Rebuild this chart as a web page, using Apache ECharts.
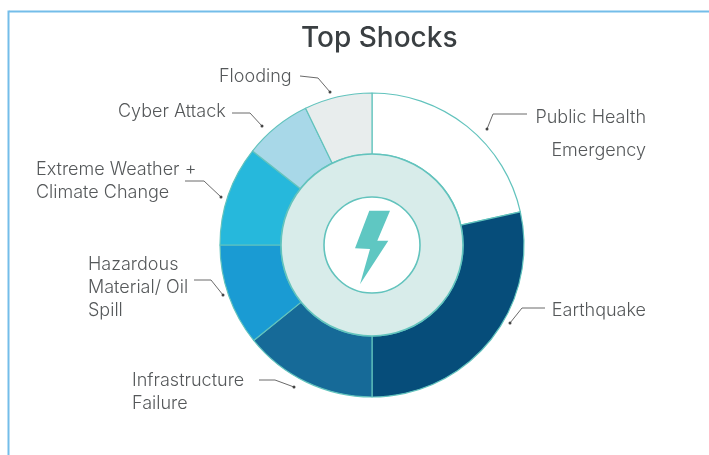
<!DOCTYPE html>
<html>
<head>
<meta charset="utf-8">
<style>html,body{margin:0;padding:0;background:#fff}#c{width:709px;height:455px}</style>
<script src="https://cdn.jsdelivr.net/npm/echarts@6/dist/echarts.min.js"></script>
</head>
<body>
<div id="c"></div>
<script>
const categories = ['Public Health\nEmergency','Earthquake','Infrastructure\nFailure','Hazardous\nMaterial/ Oil\nSpill','Extreme Weather +\nClimate Change','Cyber Attack','Flooding'];
const shares = [21.5, 28.5, 14.2, 10.8, 10.6, 7.2, 7.2];
const colors = ['#ffffff','#064d7a','#166a98','#1a9bd3','#26b8dc','#a8d8e8','#e8eded'];
const title = 'Top Shocks';
const labelAnchors = [[646,134,'right',33],[646,310.5,'right',23],[132,392,'left',23],[88,287.5,'left',23],[36,181,'left',23],[118,111.5,'left',23],[219,76.5,'left',23]];
const leaders = [
  [[527,114],[493,114],[487,129]],
  [[545,308],[522,308],[510,323]],
  [[259,380],[275,380],[294,387]],
  [[194,280],[211,280],[223,295]],
  [[185,181],[204,181],[221,197]],
  [[232,113],[250,113],[262,126]],
  [[300,76],[318,78],[330,92]]
];
const bolt = [[369.3,210.7],[390,210.7],[377.3,240.7],[388.3,240.7],[360,284.3],[370,249],[355,248.3]];
const teal = '#62c3bd', font = 'Inter';

const chart = echarts.init(document.getElementById('c'), null, {renderer:'canvas'});
const graphics = [
  {type:'line',shape:{x1:9,y1:11.5,x2:709,y2:11.5},style:{stroke:'#74bde9',lineWidth:2}},
  {type:'line',shape:{x1:8.5,y1:10.5,x2:8.5,y2:455},style:{stroke:'#74bde9',lineWidth:2}},
  {type:'polygon',z:10,shape:{points:bolt},style:{fill:'#5fc7c2'}}
];
leaders.forEach(p=>{
  graphics.push({type:'polyline',z:10,shape:{points:p},style:{stroke:'#6a6a6a',lineWidth:1,fill:null}});
  graphics.push({type:'circle',z:10,shape:{cx:p[2][0],cy:p[2][1],r:1.5},style:{fill:'#444'}});
});
chart.setOption({
  animation:false,
  backgroundColor:'#fff',
  title:{text:title,left:296,top:20,textStyle:{fontFamily:font,fontSize:28,fontWeight:500,color:'#3a3f42'}},
  graphic:graphics,
  series:[
    {type:'pie',center:[372,245],radius:[91,152],startAngle:90,clockwise:true,sort:null,
     avoidLabelOverlap:false,silent:true,
     itemStyle:{borderColor:teal,borderWidth:1.2},
     label:{show:true,fontFamily:font,fontSize:18,fontWeight:300,color:'#55585a'},
     labelLine:{show:false},
     labelLayout:function(params){
       const a=labelAnchors[params.dataIndex];
       return {x:a[0],y:a[1],align:a[2],verticalAlign:'middle'};
     },
     data:categories.map((n,i)=>({name:n,value:shares[i],itemStyle:{color:colors[i]},
       label:{lineHeight:labelAnchors[i][3],align:labelAnchors[i][2]}}))},
    {type:'pie',center:[372,245],radius:[48,91],silent:true,label:{show:false},labelLine:{show:false},
     itemStyle:{color:'#d8ecea',borderColor:teal,borderWidth:1.6},data:[{name:'ring',value:1}]}
  ]
});
</script>
</body>
</html>
